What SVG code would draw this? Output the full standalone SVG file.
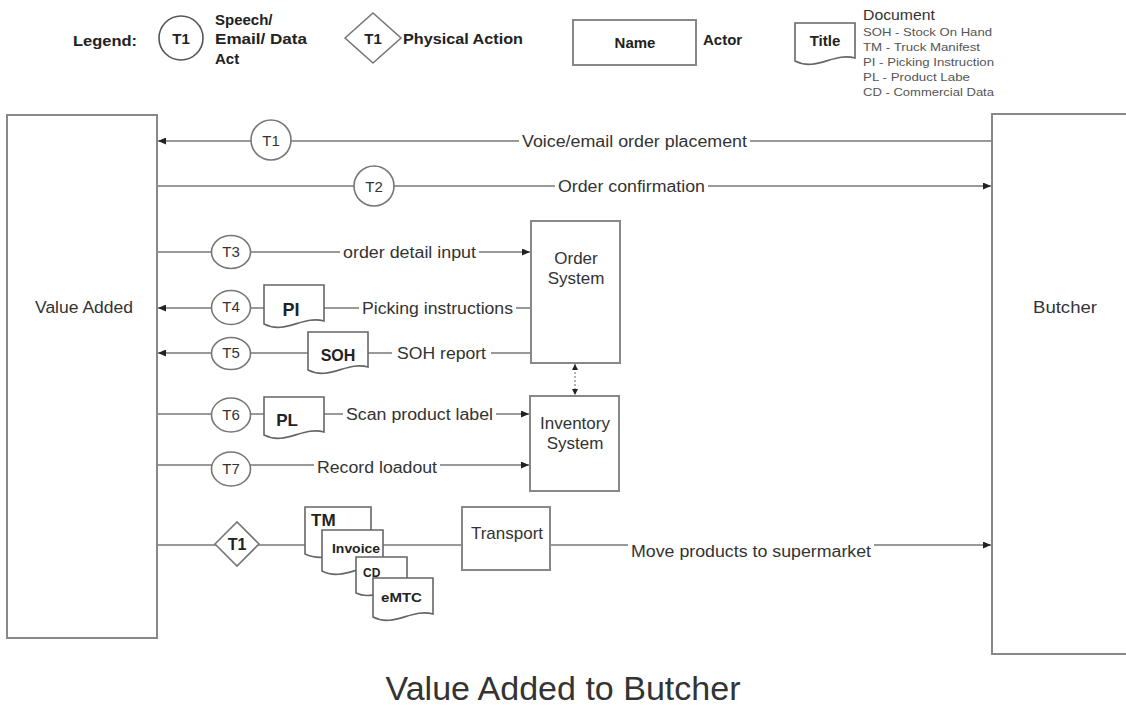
<svg xmlns="http://www.w3.org/2000/svg" width="1126" height="707" viewBox="0 0 1126 707">
<style>
text{font-family:"Liberation Sans",Arial,sans-serif;fill:#333}
.lg{font-size:15px;font-weight:bold;fill:#222}
.lab{font-size:16px;text-anchor:middle}
.node{font-size:17px;text-anchor:middle}
.tc{font-size:15px;text-anchor:middle}
.dt{font-weight:bold;fill:#222}
.sub{font-size:11px;fill:#555}
.box{fill:#fff;stroke:#888;stroke-width:2}
.shape{fill:#fff;stroke:#777;stroke-width:1.6}
.doc{fill:#fff;stroke:#666;stroke-width:1.6}
.ln{fill:none;stroke:#777;stroke-width:1.6}
.bg{fill:#fff}
</style>
<defs>
<marker id="arr" markerUnits="userSpaceOnUse" markerWidth="9" markerHeight="7" refX="8" refY="3.5" orient="auto-start-reverse">
<path d="M0,0 L8,3.5 L0,7 Z" fill="#222"/>
</marker>
<marker id="sarr" markerUnits="userSpaceOnUse" markerWidth="7" markerHeight="6" refX="6" refY="3" orient="auto-start-reverse">
<path d="M0,0 L6,3 L0,6 Z" fill="#222"/>
</marker>
</defs>
<rect width="1126" height="707" fill="#fff"/>

<g id="legend">
<text class="lg" x="73" y="46" textLength="64" lengthAdjust="spacingAndGlyphs">Legend:</text>
<circle cx="181" cy="38" r="22" fill="#fff" stroke="#555" stroke-width="1.6"/>
<text class="lg" x="181" y="44" text-anchor="middle">T1</text>
<text class="lg" x="215" y="25">Speech/</text>
<text class="lg" x="215" y="44" textLength="92" lengthAdjust="spacingAndGlyphs">Email/ Data</text>
<text class="lg" x="215" y="64">Act</text>
<polygon points="345,38 373,13 401,38 373,63" class="shape"/>
<text class="lg" x="373" y="44" text-anchor="middle">T1</text>
<text class="lg" x="403" y="44" textLength="120" lengthAdjust="spacingAndGlyphs">Physical Action</text>
<rect x="573" y="20" width="123" height="45" class="box"/>
<text class="lg" x="635" y="48" text-anchor="middle">Name</text>
<text class="lg" x="703" y="45">Actor</text>
<path d="M795,23 H855 V58 C834,52 816,72 795,61 Z" class="doc"/>
<text class="lg" x="825" y="46" text-anchor="middle">Title</text>
<text x="863" y="20" font-size="15" textLength="72" lengthAdjust="spacingAndGlyphs">Document</text>
<text class="sub" x="863" y="36" textLength="129" lengthAdjust="spacingAndGlyphs">SOH - Stock On Hand</text>
<text class="sub" x="863" y="51" textLength="117" lengthAdjust="spacingAndGlyphs">TM - Truck Manifest</text>
<text class="sub" x="863" y="66" textLength="131" lengthAdjust="spacingAndGlyphs">PI - Picking Instruction</text>
<text class="sub" x="863" y="81" textLength="107" lengthAdjust="spacingAndGlyphs">PL - Product Labe</text>
<text class="sub" x="863" y="96" textLength="131" lengthAdjust="spacingAndGlyphs">CD - Commercial Data</text>
</g>

<g id="connectors">
<line x1="992" y1="141" x2="158" y2="141" class="ln" marker-end="url(#arr)"/>
<line x1="158" y1="186" x2="991" y2="186" class="ln" marker-end="url(#arr)"/>
<line x1="158" y1="252" x2="530" y2="252" class="ln" marker-end="url(#arr)"/>
<line x1="531" y1="308" x2="158" y2="308" class="ln" marker-end="url(#arr)"/>
<line x1="531" y1="353" x2="158" y2="353" class="ln" marker-end="url(#arr)"/>
<line x1="158" y1="414" x2="529" y2="414" class="ln" marker-end="url(#arr)"/>
<line x1="158" y1="465" x2="529" y2="465" class="ln" marker-end="url(#arr)"/>
<line x1="575" y1="364" x2="575" y2="395" fill="none" stroke="#888" stroke-width="1.3" stroke-dasharray="2,2" marker-start="url(#sarr)" marker-end="url(#sarr)"/>
<line x1="158" y1="545" x2="991" y2="545" class="ln" marker-end="url(#arr)"/>
<rect class="bg" x="519" y="132" width="231" height="18"/>
<text class="lab" x="634.5" y="147" textLength="225" lengthAdjust="spacingAndGlyphs">Voice/email order placement</text>
<rect class="bg" x="555" y="177" width="153" height="18"/>
<text class="lab" x="631.5" y="192" textLength="147" lengthAdjust="spacingAndGlyphs">Order confirmation</text>
<rect class="bg" x="340" y="243" width="139" height="18"/>
<text class="lab" x="409.5" y="258" textLength="133" lengthAdjust="spacingAndGlyphs">order detail input</text>
<rect class="bg" x="359" y="299" width="157" height="18"/>
<text class="lab" x="437.5" y="314" textLength="151" lengthAdjust="spacingAndGlyphs">Picking instructions</text>
<rect class="bg" x="392" y="344" width="99" height="18"/>
<text class="lab" x="441.5" y="359" textLength="89" lengthAdjust="spacingAndGlyphs">SOH report</text>
<rect class="bg" x="343" y="405" width="153" height="18"/>
<text class="lab" x="419.5" y="420" textLength="147" lengthAdjust="spacingAndGlyphs">Scan product label</text>
<rect class="bg" x="314" y="458" width="126" height="18"/>
<text class="lab" x="377" y="473" textLength="120" lengthAdjust="spacingAndGlyphs">Record loadout</text>
<rect class="bg" x="628" y="538" width="246" height="20"/>
<text class="lab" x="751" y="557" textLength="240" lengthAdjust="spacingAndGlyphs">Move products to supermarket</text>
</g>

<g id="value-added">
<rect x="7" y="115" width="150" height="523" class="box"/>
<text class="lab" x="84" y="313" textLength="98" lengthAdjust="spacingAndGlyphs">Value Added</text>
</g>
<g id="butcher">
<rect x="992" y="114" width="140" height="540" class="box"/>
<text class="lab" x="1065" y="313" textLength="64" lengthAdjust="spacingAndGlyphs">Butcher</text>
</g>
<g id="order-system">
<rect x="531" y="221" width="89" height="142" class="box"/>
<text class="node" x="576" y="264">Order</text>
<text class="node" x="576" y="284">System</text>
</g>
<g id="inventory-system">
<rect x="530" y="396" width="89" height="95" class="box"/>
<text class="node" x="575" y="429">Inventory</text>
<text class="node" x="575" y="449">System</text>
</g>
<g id="transport">
<rect x="462" y="507" width="88" height="63" class="box"/>
<text class="node" x="507" y="539">Transport</text>
</g>

<g id="t1">
<circle cx="271" cy="140" r="20" class="shape"/>
<text class="tc" x="271" y="146">T1</text>
</g>
<g id="t2">
<circle cx="374" cy="186" r="20" class="shape"/>
<text class="tc" x="374" y="192">T2</text>
</g>
<g id="t3">
<ellipse cx="231" cy="252" rx="19.5" ry="16.5" class="shape"/>
<text class="tc" x="231" y="257">T3</text>
</g>
<g id="t4">
<ellipse cx="231" cy="307.5" rx="19.5" ry="17" class="shape"/>
<text class="tc" x="231" y="312">T4</text>
</g>
<g id="t5">
<ellipse cx="231" cy="353.5" rx="19.5" ry="16" class="shape"/>
<text class="tc" x="231" y="358">T5</text>
</g>
<g id="t6">
<ellipse cx="231" cy="415" rx="19.5" ry="17" class="shape"/>
<text class="tc" x="231" y="420">T6</text>
</g>
<g id="t7">
<ellipse cx="231" cy="469" rx="19.5" ry="17" class="shape"/>
<text class="tc" x="231" y="474">T7</text>
</g>
<g id="t1-physical">
<polygon points="215,544 237,522 259,544 237,566" class="shape"/>
<text class="dt" x="237" y="550" font-size="16" text-anchor="middle">T1</text>
</g>

<g id="doc-pi">
<path d="M264,285 H324 V321 C303,315 285,335 264,324 Z" class="doc"/>
<text class="dt" x="291" y="316" font-size="18" text-anchor="middle">PI</text>
</g>
<g id="doc-soh">
<path d="M308,332 H368 V367 C347,361 329,381 308,370 Z" class="doc"/>
<text class="dt" x="338" y="361" font-size="16" text-anchor="middle">SOH</text>
</g>
<g id="doc-pl">
<path d="M264,397 H324 V432 C303,426 285,446 264,435 Z" class="doc"/>
<text class="dt" x="287" y="426" font-size="17" text-anchor="middle">PL</text>
</g>
<g id="doc-tm">
<path d="M305,507 H371 V551 C348,545 328,565 305,554 Z" class="doc"/>
<text class="dt" x="311" y="526" font-size="17">TM</text>
</g>
<g id="doc-invoice">
<path d="M322,530 H383 V568 C362,562 343,582 322,571 Z" class="doc"/>
<text class="dt" x="332" y="553" font-size="12" textLength="48" lengthAdjust="spacingAndGlyphs">Invoice</text>
</g>
<g id="doc-cd">
<path d="M356,557 H407 V590 C389,584 374,602 356,593 Z" class="doc"/>
<text class="dt" x="363" y="577" font-size="12">CD</text>
</g>
<g id="doc-emtc">
<path d="M373,578 H433 V614 C412,608 394,628 373,617 Z" class="doc"/>
<text class="dt" x="381" y="602" font-size="13" textLength="41" lengthAdjust="spacingAndGlyphs">eMTC</text>
</g>

<text x="563" y="700" font-size="33" text-anchor="middle" textLength="355" lengthAdjust="spacingAndGlyphs">Value Added to Butcher</text>
</svg>
